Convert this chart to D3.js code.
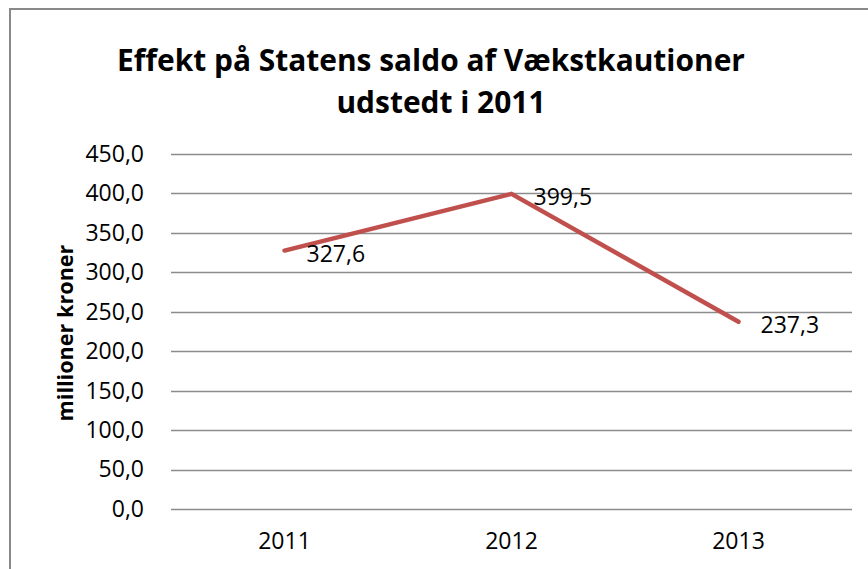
<!DOCTYPE html>
<html>
<head>
<meta charset="utf-8">
<script src="https://cdn.jsdelivr.net/npm/d3@7"></script>
<style>
  body { margin: 0; background: #fff; }
  text { font-family: "Open Sans", sans-serif; fill: #000; }
</style>
</head>
<body>
<svg id="chart" width="868" height="569"></svg>
<script>
// chart data
var years = ["2011", "2012", "2013"];
var values = [327.6, 399.5, 237.3];
var yTicks = [0, 50, 100, 150, 200, 250, 300, 350, 400, 450];
var titleLines = ["Effekt på Statens saldo af Vækstkautioner", "udstedt i 2011"];
var yTitle = "millioner kroner";

var svg = d3.select("#chart");
var margin = {top: 154, right: 16, bottom: 60, left: 171};
var width = 868 - margin.left - margin.right;
var height = 569 - margin.top - margin.bottom;
var labelFont = "23px";

var fmt = function(v) { return d3.format(".1f")(v).replace(".", ","); };

// shrink/grow a text node's font so it spans the given width
function fitWidth(sel, target, start, maxSize) {
  sel.style("font-size", start + "px");
  var w = sel.node().getComputedTextLength();
  var fs = Math.min(start * target / w, maxSize);
  sel.style("font-size", fs + "px");
  return fs;
}

// outer frame (right and bottom edges run off the picture)
svg.append("rect")
    .attr("x", 10)
    .attr("y", 9)
    .attr("width", 900)
    .attr("height", 600)
    .attr("fill", "none")
    .attr("stroke", "#898989")
    .attr("stroke-width", 2);

// title
var t1 = svg.append("text")
    .attr("x", 431)
    .attr("y", 59)
    .attr("text-anchor", "middle")
    .attr("dominant-baseline", "central")
    .style("font-weight", "bold")
    .text(titleLines[0]);
var fs = fitWidth(t1, 628, 26, 30);
svg.append("text")
    .attr("x", 441)
    .attr("y", 101)
    .attr("text-anchor", "middle")
    .attr("dominant-baseline", "central")
    .style("font-weight", "bold")
    .style("font-size", fs + "px")
    .text(titleLines[1]);

var g = svg.append("g")
    .attr("transform", "translate(" + margin.left + "," + margin.top + ")");

var x = d3.scaleBand().domain(years).range([0, width]);
var y = d3.scaleLinear().domain([0, 450]).range([height, 0]);

// gridlines
g.append("g")
    .selectAll("line")
    .data(yTicks)
    .enter()
    .append("line")
    .attr("x1", 0)
    .attr("x2", width)
    .attr("y1", function(d) { return Math.round(y(d)) + 0.5; })
    .attr("y2", function(d) { return Math.round(y(d)) + 0.5; })
    .attr("stroke", "#8c8c8c")
    .attr("stroke-width", 1.5);

// Y axis labels
var yAxis = g.append("g")
    .call(d3.axisLeft(y).tickValues(yTicks).tickFormat(fmt).tickSize(0).tickPadding(27));
yAxis.select(".domain").remove();
yAxis.selectAll("text")
    .style("font-family", "'Open Sans', sans-serif")
    .style("font-size", labelFont)
    .attr("fill", "#000");

// X axis labels
var xAxis = g.append("g")
    .attr("transform", "translate(0," + height + ")")
    .call(d3.axisBottom(x).tickSize(0).tickPadding(24));
xAxis.select(".domain").remove();
xAxis.selectAll("text")
    .style("font-family", "'Open Sans', sans-serif")
    .style("font-size", labelFont)
    .attr("fill", "#000");

// Y axis title
var yt = svg.append("text")
    .attr("transform", "translate(64,333) rotate(-90)")
    .attr("text-anchor", "middle")
    .attr("dominant-baseline", "central")
    .style("font-weight", "bold")
    .text(yTitle);
fitWidth(yt, 177, 20, 24);

// line
var data = years.map(function(yr, i) { return {year: yr, value: values[i]}; });
var line = d3.line()
    .x(function(d) { return x(d.year) + x.bandwidth() / 2; })
    .y(function(d) { return y(d.value); });

g.append("path")
    .datum(data)
    .attr("d", line)
    .attr("fill", "none")
    .attr("stroke", "#C0504D")
    .attr("stroke-width", 4.5)
    .attr("stroke-linecap", "round")
    .attr("stroke-linejoin", "round");

// data labels
g.append("g")
    .selectAll("text")
    .data(data)
    .enter()
    .append("text")
    .attr("x", function(d) { return x(d.year) + x.bandwidth() / 2 + 22; })
    .attr("y", function(d) { return y(d.value) + 2; })
    .attr("dominant-baseline", "central")
    .style("font-size", labelFont)
    .text(function(d) { return fmt(d.value); });
</script>
</body>
</html>
